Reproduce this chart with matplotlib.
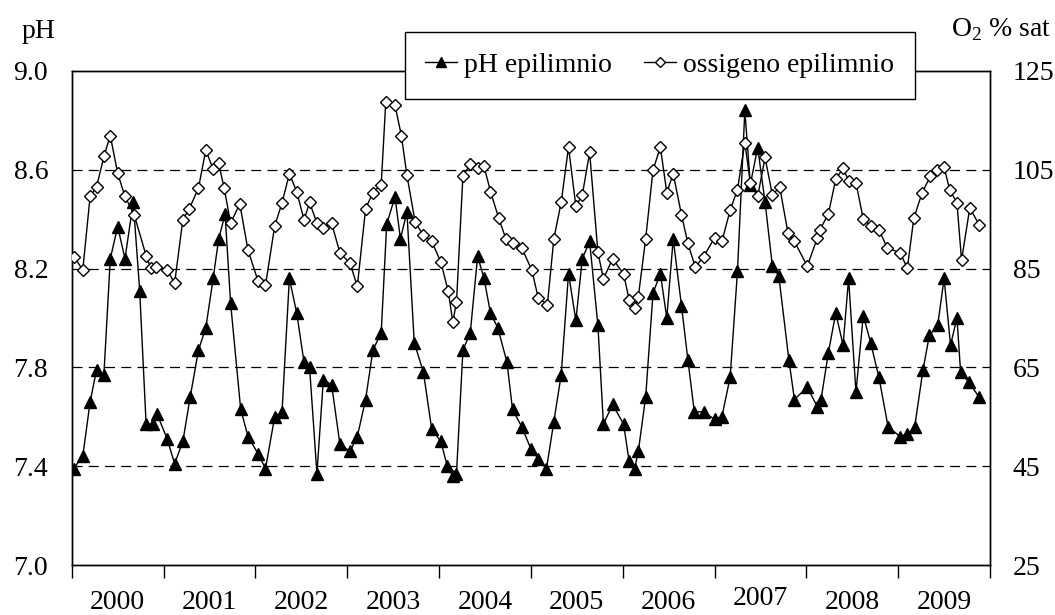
import matplotlib
matplotlib.use('Agg')
import matplotlib.pyplot as plt
import numpy as np

plt.rcParams['font.family'] = ['Liberation Serif', 'DejaVu Serif']
plt.rcParams['mathtext.fontset'] = 'custom'
plt.rcParams['mathtext.rm'] = 'Liberation Serif'

# sampling dates as decimal years
ph_t = [2000.02, 2000.12, 2000.20, 2000.27, 2000.35, 2000.42, 2000.50, 2000.58, 2000.67, 2000.74,
        2000.81, 2000.88, 2000.93, 2001.04, 2001.12, 2001.21, 2001.29, 2001.38, 2001.46, 2001.54,
        2001.60, 2001.67, 2001.73, 2001.84, 2001.92, 2002.03, 2002.11, 2002.21, 2002.29, 2002.37,
        2002.45, 2002.53, 2002.59, 2002.67, 2002.74, 2002.83, 2002.92, 2003.03, 2003.11, 2003.20,
        2003.28, 2003.37, 2003.43, 2003.52, 2003.58, 2003.65, 2003.73, 2003.83, 2003.92, 2004.02,
        2004.09, 2004.15, 2004.19, 2004.26, 2004.34, 2004.42, 2004.49, 2004.56, 2004.64, 2004.74,
        2004.80, 2004.90, 2005.00, 2005.08, 2005.17, 2005.25, 2005.33, 2005.41, 2005.49, 2005.56,
        2005.64, 2005.73, 2005.79, 2005.89, 2006.01, 2006.07, 2006.13, 2006.17, 2006.25, 2006.33,
        2006.41, 2006.48, 2006.55, 2006.64, 2006.71, 2006.78, 2006.88, 2007.00, 2007.08, 2007.17,
        2007.25, 2007.33, 2007.39, 2007.47, 2007.55, 2007.63, 2007.70, 2007.81, 2007.87, 2008.01,
        2008.12, 2008.16, 2008.24, 2008.32, 2008.40, 2008.46, 2008.54, 2008.62, 2008.70, 2008.79,
        2008.89, 2009.02, 2009.10, 2009.18, 2009.27, 2009.34, 2009.43, 2009.50, 2009.57, 2009.64,
        2009.68, 2009.77, 2009.88]
ph = [7.39, 7.44, 7.66, 7.79, 7.77, 8.24, 8.37, 8.24, 8.47, 8.11,
      7.57, 7.57, 7.61, 7.51, 7.41, 7.50, 7.68, 7.87, 7.96, 8.16,
      8.32, 8.42, 8.06, 7.63, 7.52, 7.45, 7.39, 7.60, 7.62, 8.16,
      8.02, 7.82, 7.80, 7.37, 7.75, 7.73, 7.49, 7.46, 7.52, 7.67,
      7.87, 7.94, 8.38, 8.49, 8.32, 8.43, 7.90, 7.78, 7.55, 7.50,
      7.40, 7.36, 7.37, 7.87, 7.94, 8.25, 8.16, 8.02, 7.96, 7.82,
      7.63, 7.56, 7.47, 7.43, 7.39, 7.58, 7.77, 8.18, 7.99, 8.24,
      8.31, 7.97, 7.57, 7.65, 7.57, 7.42, 7.39, 7.46, 7.68, 8.10,
      8.18, 8.00, 8.32, 8.05, 7.83, 7.62, 7.62, 7.59, 7.60, 7.76,
      8.19, 8.84, 8.54, 8.69, 8.47, 8.21, 8.17, 7.83, 7.67, 7.72,
      7.64, 7.67, 7.86, 8.02, 7.89, 8.16, 7.70, 8.01, 7.90, 7.76,
      7.56, 7.52, 7.53, 7.56, 7.79, 7.93, 7.97, 8.16, 7.89, 8.00,
      7.78, 7.74, 7.68]

ox_t = [2000.03, 2000.12, 2000.20, 2000.27, 2000.35, 2000.42, 2000.50, 2000.58, 2000.68, 2000.81,
        2000.86, 2000.92, 2001.04, 2001.12, 2001.21, 2001.28, 2001.38, 2001.46, 2001.54, 2001.60,
        2001.66, 2001.73, 2001.83, 2001.92, 2002.03, 2002.11, 2002.21, 2002.29, 2002.37, 2002.45,
        2002.53, 2002.59, 2002.67, 2002.74, 2002.83, 2002.92, 2003.03, 2003.11, 2003.20, 2003.28,
        2003.37, 2003.42, 2003.52, 2003.59, 2003.65, 2003.74, 2003.83, 2003.92, 2004.02, 2004.10,
        2004.15, 2004.19, 2004.26, 2004.34, 2004.42, 2004.49, 2004.56, 2004.65, 2004.73, 2004.80,
        2004.90, 2005.01, 2005.08, 2005.18, 2005.25, 2005.33, 2005.41, 2005.49, 2005.56, 2005.64,
        2005.73, 2005.79, 2005.89, 2006.01, 2006.07, 2006.13, 2006.17, 2006.25, 2006.33, 2006.41,
        2006.48, 2006.55, 2006.64, 2006.71, 2006.79, 2006.88, 2007.00, 2007.08, 2007.17, 2007.25,
        2007.33, 2007.39, 2007.47, 2007.55, 2007.63, 2007.71, 2007.80, 2007.87, 2008.01, 2008.12,
        2008.15, 2008.24, 2008.32, 2008.40, 2008.46, 2008.54, 2008.62, 2008.70, 2008.79, 2008.88,
        2009.02, 2009.10, 2009.17, 2009.26, 2009.35, 2009.42, 2009.50, 2009.56, 2009.64, 2009.69,
        2009.78, 2009.88]
ox = [87.3, 84.7, 99.6, 101.5, 107.7, 111.9, 104.3, 99.6, 95.9, 87.6,
      85.1, 85.3, 84.8, 82.0, 94.9, 97.1, 101.3, 109.0, 105.1, 106.3,
      101.3, 94.2, 98.1, 88.7, 82.4, 81.6, 93.6, 98.3, 104.2, 100.6,
      94.8, 98.4, 94.2, 93.2, 94.2, 88.2, 86.1, 81.4, 97.1, 100.4,
      102.0, 118.8, 118.1, 111.9, 103.9, 94.4, 91.7, 90.5, 86.3, 80.4,
      74.2, 78.2, 103.8, 106.1, 105.3, 105.7, 100.6, 95.2, 90.9, 90.2,
      89.2, 84.7, 79.1, 77.7, 91.0, 98.4, 109.6, 97.6, 99.9, 108.5,
      88.3, 82.9, 87.0, 83.9, 78.7, 77.1, 79.3, 91.0, 104.9, 109.6,
      100.4, 104.2, 95.9, 90.1, 85.3, 87.4, 91.2, 90.5, 96.8, 101.0,
      110.5, 102.3, 99.6, 107.5, 99.9, 101.5, 92.2, 90.5, 85.5, 91.2,
      92.9, 96.1, 103.1, 105.3, 102.8, 102.4, 95.0, 93.6, 92.9, 89.2,
      88.2, 85.1, 95.2, 100.3, 103.7, 105.0, 105.5, 101.0, 98.3, 86.7,
      97.3, 93.9]

years = [2000, 2001, 2002, 2003, 2004, 2005, 2006, 2007, 2008, 2009]
ph_ticks = [7.0, 7.4, 7.8, 8.2, 8.6, 9.0]
ox_ticks = [25, 45, 65, 85, 105, 125]

fs = 20

fig = plt.figure(figsize=(10.55, 6.15), dpi=100)
ax = fig.add_axes([0.068, 0.0813, 0.8704, 0.8033])
ax2 = ax.twinx()

ax.plot(ph_t, ph, color='black', lw=1.0, marker='^', ms=9,
        mfc='black', mec='black', label='pH epilimnio', zorder=3)
ax2.plot(ox_t, ox, color='black', lw=1.0, marker='D', ms=6.5,
         mfc='white', mec='black', mew=1.0, label='ossigeno epilimnio', zorder=3)

ax.set_xlim(2000, 2010)
ax.set_ylim(7.0, 9.0)
ax2.set_ylim(25, 125)

ax.set_yticks(ph_ticks)
ax.set_yticklabels(['%.1f' % v for v in ph_ticks])
ax2.set_yticks(ox_ticks)
ax2.set_yticklabels([str(v) for v in ox_ticks])

ax.set_xticks(list(range(2000, 2011)))
ax.set_xticklabels([])
ax.tick_params(axis='x', which='major', direction='out', length=9, width=1, color='black')
ax.tick_params(axis='y', length=0, labelsize=fs, pad=17)
ax2.tick_params(axis='y', length=0, labelsize=fs, pad=16.5)

# year labels centred in each year (2007 sits a little higher in the original)
for y in years:
    yy = -0.0668 if y == 2007 else -0.0749
    ax.text(y + 0.5, yy, str(y), transform=ax.get_xaxis_transform(),
            fontsize=fs, ha='center', va='center')

for y in ph_ticks[1:-1]:
    ax.axhline(y, color='black', lw=0.9, ls=(0, (8, 5)), zorder=1)

for a in (ax, ax2):
    for s in a.spines.values():
        s.set_linewidth(1.0)
        s.set_color('black')

fig.text(0.037, 0.948, 'pH', fontsize=fs, ha='center', va='center')
fig.text(0.997, 0.952, r'O$_\mathrm{2}$ % sat', fontsize=fs, ha='right', va='center')

h1, l1 = ax.get_legend_handles_labels()
h2, l2 = ax2.get_legend_handles_labels()
leg = ax2.legend(h1 + h2, l1 + l2, ncol=2, loc='center',
                 bbox_to_anchor=(0.6254, 0.8938), bbox_transform=fig.transFigure,
                 frameon=True, fancybox=False, edgecolor='black', framealpha=1,
                 fontsize=fs, handlelength=1.15, handletextpad=0.25, columnspacing=1.15,
                 borderpad=0.75, borderaxespad=0, markerscale=0.8)
leg.get_frame().set_linewidth(1.0)

fig.savefig('out.png', dpi=100)
